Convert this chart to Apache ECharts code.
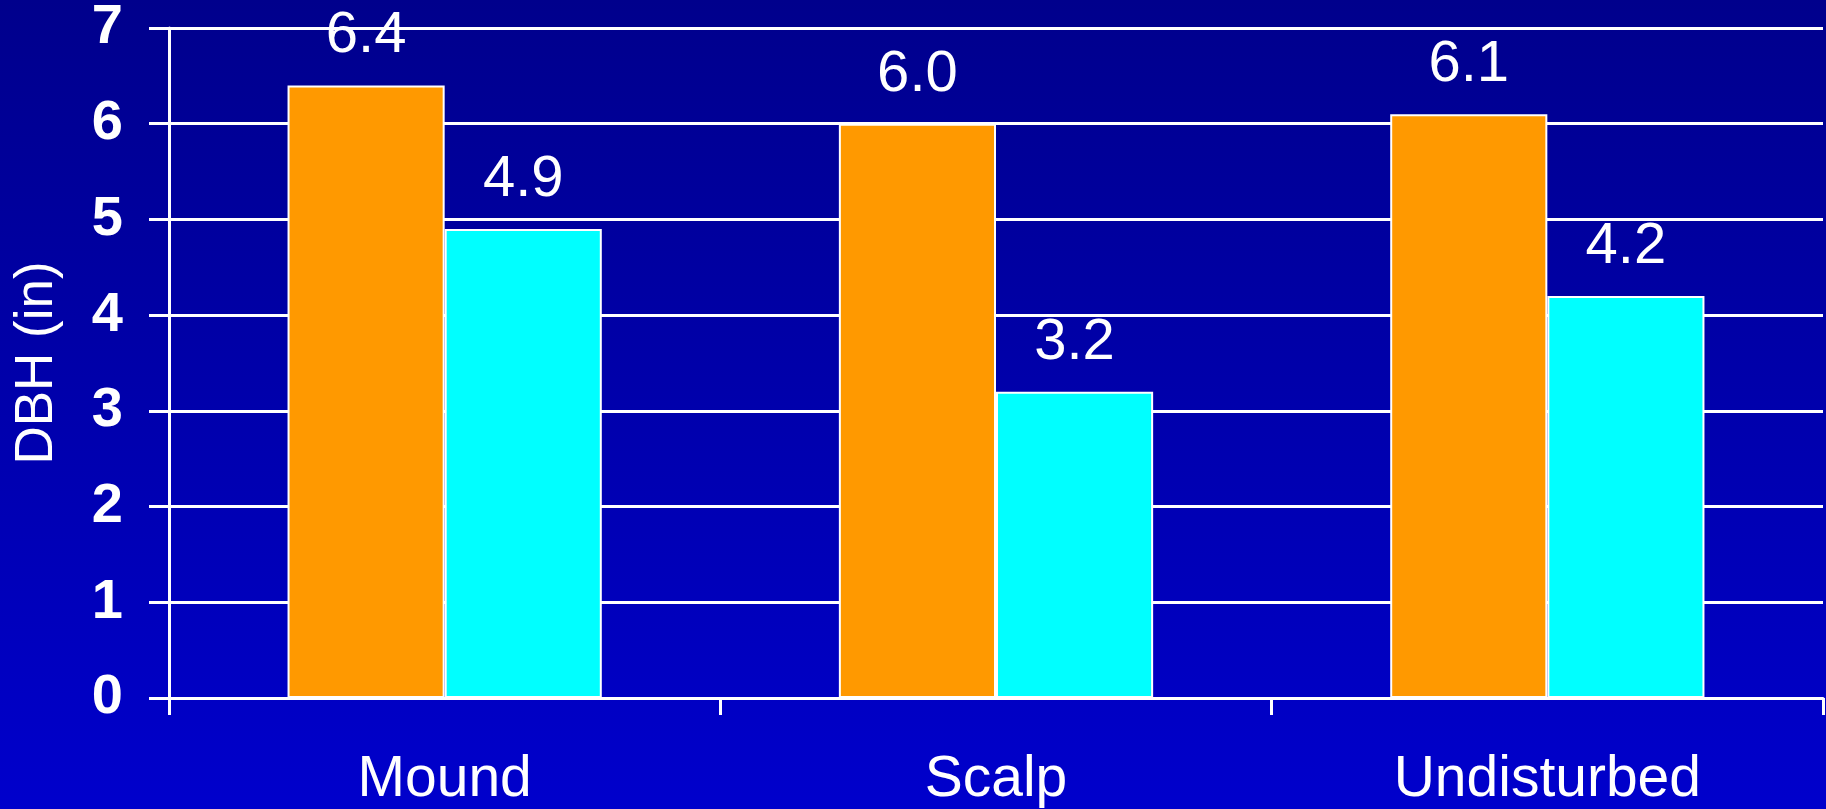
<!DOCTYPE html>
<html>
<head>
<meta charset="utf-8">
<title>DBH by site preparation</title>
<script src="https://cdn.jsdelivr.net/npm/echarts@6/dist/echarts.min.js"></script>
<style>
  html, body { margin: 0; padding: 0; background: #0000b0; }
  #chart { width: 1826px; height: 809px; }
</style>
</head>
<body>
<div id="chart"></div>
<script>
// Site preparation treatments
const categories = ['Mound', 'Scalp', 'Undisturbed'];
// Mean diameter at breast height (inches), two series per treatment
const seriesA = [6.4, 6.0, 6.1];
const seriesB = [4.9, 3.2, 4.2];
const yTicks = [0, 1, 2, 3, 4, 5, 6, 7];
const yTitle = 'DBH (in)';

const FONT = '"Liberation Sans", Arial, Helvetica, sans-serif';
const WHITE = '#ffffff';

const chart = echarts.init(document.getElementById('chart'), null, { renderer: 'canvas' });

function barSeries(name, values, color) {
  return {
    name: name,
    type: 'bar',
    data: values,
    barWidth: '28.5%',
    barGap: '0%',
    itemStyle: { color: color, borderColor: WHITE, borderWidth: 2 },
    label: {
      show: true,
      position: 'top',
      distance: 20,
      color: WHITE,
      fontFamily: FONT,
      fontSize: 58,
      formatter: p => p.value.toFixed(1)
    }
  };
}

chart.setOption({
  animation: false,
  backgroundColor: {
    type: 'linear', x: 0, y: 0, x2: 0, y2: 1,
    colorStops: [
      { offset: 0, color: '#00008c' },
      { offset: 1, color: '#0000cc' }
    ]
  },
  grid: { left: 169, right: 3, top: 28, bottom: 110 },
  xAxis: {
    type: 'category',
    data: categories,
    axisLine: { show: true, lineStyle: { color: WHITE, width: 3 } },
    axisTick: { show: true, length: 17, alignWithLabel: false, lineStyle: { color: WHITE, width: 3 } },
    axisLabel: { color: WHITE, fontFamily: FONT, fontSize: 57, margin: 54 }
  },
  yAxis: {
    type: 'value',
    min: yTicks[0],
    max: yTicks[yTicks.length - 1],
    interval: 1,
    name: yTitle,
    nameLocation: 'middle',
    nameGap: 105,
    nameRotate: 90,
    nameTextStyle: { color: WHITE, fontFamily: FONT, fontSize: 53 },
    axisLine: { show: true, lineStyle: { color: WHITE, width: 3 } },
    axisTick: { show: true, length: 20, lineStyle: { color: WHITE, width: 3 } },
    splitLine: { show: true, lineStyle: { color: WHITE, width: 3 } },
    axisLabel: { color: WHITE, fontFamily: FONT, fontSize: 56, fontWeight: 'bold', margin: 46 }
  },
  series: [
    barSeries('A', seriesA, '#ff9900'),
    barSeries('B', seriesB, '#00ffff')
  ]
});
</script>
</body>
</html>
